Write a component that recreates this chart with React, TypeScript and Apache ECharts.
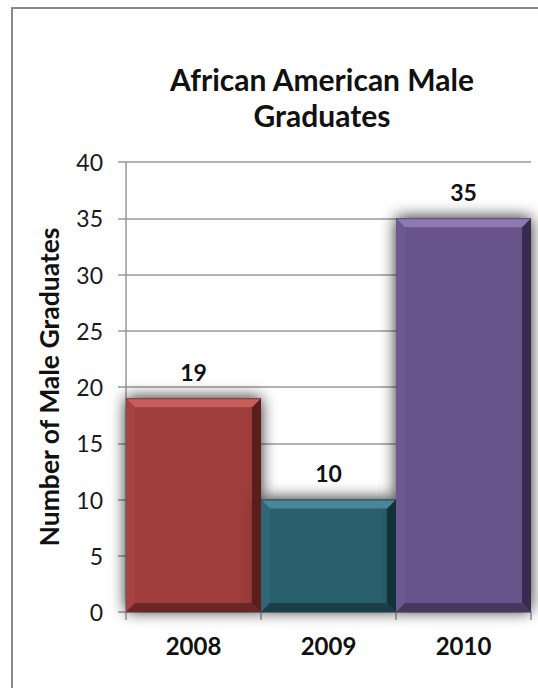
import React, { useEffect, useRef } from "react";
import * as echarts from "echarts";

const years = ["2008", "2009", "2010"];
const graduates = [19, 10, 35];
const yTicks = { min: 0, max: 40, interval: 5 };

// face, top bevel, left bevel, right bevel, bottom bevel
const barPalettes = [
  { face: "#9E3C3A", top: "#C65E5B", left: "#A54341", right: "#5A1E1D", bottom: "#6B2725" },
  { face: "#2A5E6D", top: "#4C8696", left: "#2F6574", right: "#123139", bottom: "#1A3F49" },
  { face: "#67528B", top: "#8F79B0", left: "#6D5891", right: "#382B4F", bottom: "#47385F" },
];

const FONT = "Lato, 'Open Sans', sans-serif";

export default function App() {
  const ref = useRef<HTMLDivElement>(null);

  useEffect(() => {
    if (!ref.current) return;
    const chart = echarts.init(ref.current, null, { renderer: "svg" });
    const bevel = 9;

    chart.setOption({
      animation: false,
      backgroundColor: "#ffffff",
      title: {
        text: "African American Male\nGraduates",
        left: 317,
        top: 56,
        textAlign: "center",
        textStyle: {
          fontFamily: FONT,
          fontWeight: "bold",
          fontSize: 30,
          lineHeight: 36,
          color: "#111",
        },
      },
      graphic: [
        {
          type: "rect",
          shape: { x: 12, y: 8, width: 700, height: 900 },
          style: { fill: "none", stroke: "#8a8a8a", lineWidth: 2 },
          silent: true,
          z: 100,
        },
      ],
      grid: { left: 126, right: 7, top: 162, bottom: 76 },
      xAxis: {
        type: "category",
        data: years,
        axisLine: { lineStyle: { color: "#999", width: 1.5 } },
        axisTick: { show: true, length: 8, lineStyle: { color: "#999", width: 1.5 } },
        axisLabel: {
          fontFamily: FONT,
          fontWeight: "bold",
          fontSize: 24,
          color: "#111",
          margin: 21,
        },
      },
      yAxis: {
        type: "value",
        min: yTicks.min,
        max: yTicks.max,
        interval: yTicks.interval,
        name: "Number of Male Graduates",
        nameLocation: "middle",
        nameGap: 64,
        nameRotate: 90,
        nameTextStyle: {
          fontFamily: FONT,
          fontWeight: "bold",
          fontSize: 26.5,
          color: "#111",
        },
        axisLine: { show: true, lineStyle: { color: "#999", width: 1.5 } },
        axisTick: { show: true, length: 8, lineStyle: { color: "#999", width: 1.5 } },
        splitLine: { lineStyle: { color: "#999", width: 1.5 } },
        axisLabel: {
          fontFamily: FONT,
          fontSize: 23,
          color: "#1a1a1a",
          margin: 23,
        },
      },
      series: [
        {
          type: "bar",
          data: graduates.map((v, i) => ({
            value: v,
            itemStyle: { color: barPalettes[i].face },
          })),
          barWidth: "100%",
          barCategoryGap: "0%",
          itemStyle: {
            shadowBlur: 16,
            shadowColor: "rgba(0,0,0,0.85)",
            shadowOffsetX: 0,
            shadowOffsetY: -1,
          },
          label: {
            show: true,
            position: "top",
            distance: 15,
            fontFamily: FONT,
            fontWeight: "bold",
            fontSize: 23,
            color: "#111",
          },
          z: 2,
        },
        {
          // bevelled edges drawn over each bar
          type: "custom",
          data: graduates.map((v, i) => [i, v]),
          z: 3,
          silent: true,
          renderItem: (params: any, api: any) => {
            const i = api.value(0);
            const v = api.value(1);
            const top = api.coord([i, v]);
            const base = api.coord([i, 0]);
            const w = api.size([1, 0])[0];
            const x0 = top[0] - w / 2;
            const x1 = top[0] + w / 2;
            const y0 = top[1];
            const y1 = base[1];
            const b = Math.min(bevel, (y1 - y0) / 2);
            const p = barPalettes[i];
            return {
              type: "group",
              children: [
                {
                  type: "polygon",
                  shape: { points: [[x0, y0], [x0 + b, y0 + b], [x0 + b, y1 - b], [x0, y1]] },
                  style: { fill: p.left },
                },
                {
                  type: "polygon",
                  shape: { points: [[x1, y0], [x1 - b, y0 + b], [x1 - b, y1 - b], [x1, y1]] },
                  style: { fill: p.right },
                },
                {
                  type: "polygon",
                  shape: { points: [[x0, y1], [x0 + b, y1 - b], [x1 - b, y1 - b], [x1, y1]] },
                  style: { fill: p.bottom },
                },
                {
                  type: "polygon",
                  shape: { points: [[x0, y0], [x1, y0], [x1 - b, y0 + b], [x0 + b, y0 + b]] },
                  style: { fill: p.top },
                },
                {
                  type: "line",
                  shape: { x1: x0, y1: y0 + 0.5, x2: x1, y2: y0 + 0.5 },
                  style: { stroke: p.right, lineWidth: 1, opacity: 0.6 },
                },
              ],
            };
          },
        },
      ],
    });

    return () => chart.dispose();
  }, []);

  return (
    <div
      ref={ref}
      style={{ width: 538, height: 688, position: "absolute", left: 0, top: 0 }}
    />
  );
}
